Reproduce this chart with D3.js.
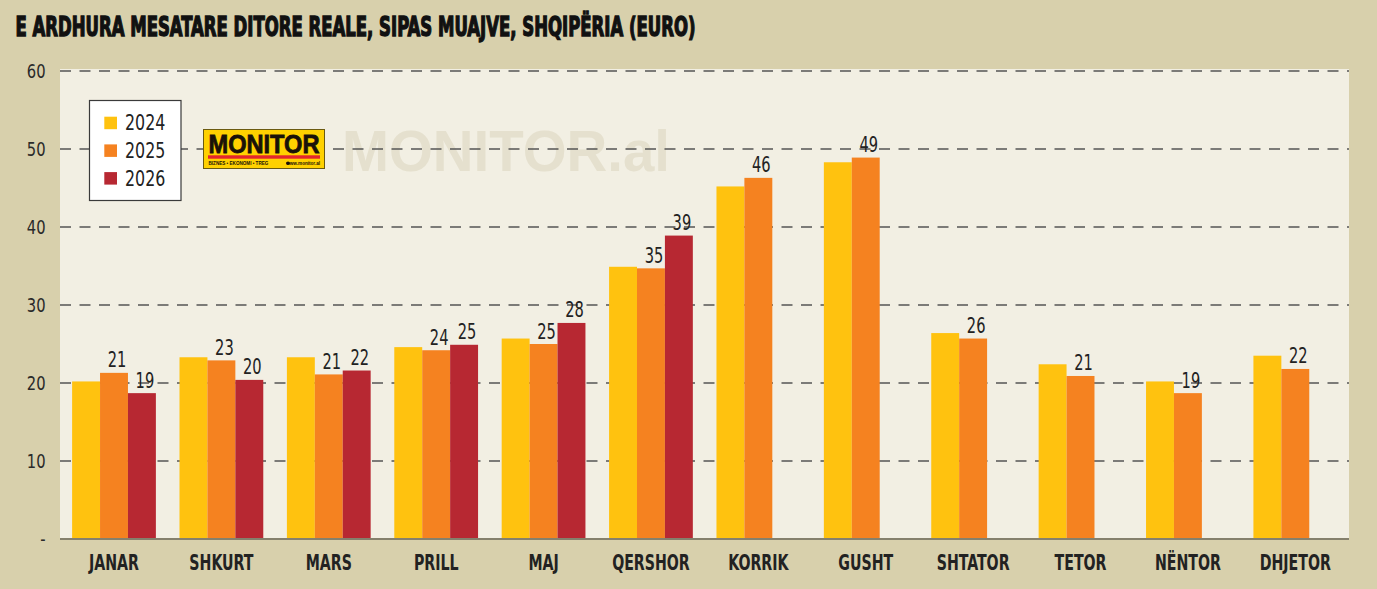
<!DOCTYPE html>
<html>
<head>
<meta charset="utf-8">
<script src="https://cdn.jsdelivr.net/npm/d3@7"></script>
<style>
  html, body { margin: 0; padding: 0; background: #D8D0AC; }
  svg { display: block; }
  .narrow { font-family: "Liberation Sans Narrow", "Arial Narrow", "DejaVu Sans Condensed", sans-serif; }
</style>
</head>
<body>
<svg id="chart" width="1377" height="589"></svg>
<script>
const title = "E ARDHURA MESATARE DITORE REALE, SIPAS MUAJVE, SHQIPËRIA (EURO)";
const months = ["JANAR","SHKURT","MARS","PRILL","MAJ","QERSHOR","KORRIK","GUSHT","SHTATOR","TETOR","NËNTOR","DHJETOR"];
const seriesNames = ["2024","2025","2026"];
const values2024 = [20.2, 23.3, 23.3, 24.6, 25.7, 34.9, 45.2, 48.3, 26.4, 22.4, 20.2, 23.5];
const values2025 = [21.3, 22.9, 21.1, 24.2, 25.0, 34.7, 46.3, 48.9, 25.7, 20.9, 18.7, 21.8];
const values2026 = [18.7, 20.4, 21.6, 24.9, 27.7, 38.9, null, null, null, null, null, null];
const labelledSeries = ["2025","2026"];
const yTicks = [0, 10, 20, 30, 40, 50, 60];
const yTickLabels = ["-", "10", "20", "30", "40", "50", "60"];
const colors = {"2024": "#FFC20F", "2025": "#F58220", "2026": "#B72832"};

const seriesValues = {"2024": values2024, "2025": values2025, "2026": values2026};

const svg = d3.select("#chart");
const W = 1377, H = 589;
const plot = {left: 60.3, right: 1349, top: 71, bottom: 539};

// helper: condensed text via horizontal scaling
function ntext(parent, x, y, str, size, sx, opts = {}) {
  const t = parent.append("text")
    .attr("class", "narrow")
    .attr("transform", `translate(${x},${y}) scale(${sx},1)`)
    .attr("font-size", size)
    .attr("fill", opts.fill || "#222")
    .attr("text-anchor", opts.anchor || "start")
    .attr("font-weight", opts.weight || "normal")
    .text(str);
  return t;
}

svg.append("rect").attr("x", 0).attr("y", 0).attr("width", W).attr("height", H).attr("fill", "#D8D0AC");

// title
svg.append("text").attr("class", "narrow")
  .attr("x", 15.5).attr("y", 36)
  .attr("font-size", 26).attr("font-weight", "bold").attr("fill", "#111")
  .attr("stroke", "#111").attr("stroke-width", 1.3)
  .attr("textLength", 680).attr("lengthAdjust", "spacingAndGlyphs")
  .text(title);

const x = d3.scaleBand().domain(months).range([plot.left, plot.right]).paddingInner(0.22).paddingOuter(0.11);
const xs = d3.scaleBand().domain(seriesNames).range([0, x.bandwidth()]).padding(0);
const y = d3.scaleLinear().domain([0, 60]).range([plot.bottom, plot.top]);

// plot background
svg.append("rect").attr("x", 60).attr("y", plot.top - 2)
  .attr("width", plot.right - 60).attr("height", plot.bottom - plot.top + 2)
  .attr("fill", "#F2EFE3");

// watermark
svg.append("text")
  .attr("x", 342).attr("y", 170.5)
  .attr("font-family", "Liberation Sans, Arial, sans-serif")
  .attr("font-weight", "bold").attr("font-size", 58)
  .attr("textLength", 328).attr("lengthAdjust", "spacingAndGlyphs")
  .attr("fill", "#E5E0CE")
  .text("MONITOR.al");

// gridlines
svg.append("g").selectAll("line").data(yTicks.filter(d => d > 0)).join("line")
  .attr("x1", 60).attr("x2", plot.right)
  .attr("y1", d => y(d)).attr("y2", d => y(d))
  .attr("stroke", "#555").attr("stroke-width", 1.4)
  .attr("stroke-dasharray", "11,8.5");

// y axis labels
const yg = svg.append("g");
yTicks.forEach((t, i) => {
  ntext(yg, 45.5, y(t) + 7, yTickLabels[i], 20, 0.82, {anchor: "end", fill: "#2a2a2a"});
});

// logo
const logo = svg.append("g");
logo.append("rect").attr("x", 203.5).attr("y", 129.5).attr("width", 121).attr("height", 39)
  .attr("fill", "#FFD100").attr("stroke", "#6b5a10").attr("stroke-width", 1);
logo.append("text").attr("x", 208.5).attr("y", 153)
  .attr("font-family", "Liberation Sans, Arial, sans-serif").attr("font-weight", "bold")
  .attr("font-size", 26).attr("fill", "#1a1208").attr("stroke", "#1a1208").attr("stroke-width", 0.8)
  .attr("textLength", 111).attr("lengthAdjust", "spacingAndGlyphs").text("MONITOR");
logo.append("rect").attr("x", 208).attr("y", 155.3).attr("width", 112).attr("height", 3.4).attr("fill", "#E4262C");
logo.append("text").attr("x", 208.5).attr("y", 165)
  .attr("font-family", "Liberation Sans, Arial, sans-serif").attr("font-weight", "bold")
  .attr("font-size", 4.6).attr("fill", "#1a1208").text("BIZNES  •  EKONOMI  •  TREG");
logo.append("circle").attr("cx", 288).attr("cy", 163.3).attr("r", 1.8).attr("fill", "#1a1208");
logo.append("text").attr("x", 320).attr("y", 165).attr("text-anchor", "end")
  .attr("font-family", "Liberation Sans, Arial, sans-serif").attr("font-weight", "bold")
  .attr("font-size", 4.6).attr("fill", "#1a1208").text("www.monitor.al");

// bars
const barData = [];
months.forEach((m, i) => {
  seriesNames.forEach(s => {
    const v = seriesValues[s][i];
    if (v !== null && v !== undefined) barData.push({month: m, series: s, value: v});
  });
});

svg.append("g").selectAll("rect").data(barData).join("rect")
  .attr("x", d => x(d.month) + xs(d.series))
  .attr("width", xs.bandwidth())
  .attr("y", d => y(d.value))
  .attr("height", d => y(0) - y(d.value))
  .attr("fill", d => colors[d.series]);

// value labels
const vg = svg.append("g");
barData.filter(d => labelledSeries.includes(d.series)).forEach(d => {
  ntext(vg, x(d.month) + xs(d.series) + xs.bandwidth() / 2 + 3, y(d.value) - 5.5,
        d3.format(".0f")(d.value), 22, 0.74, {anchor: "middle", fill: "#222"});
});

// baseline
svg.append("line").attr("x1", 60).attr("x2", plot.right)
  .attr("y1", y(0)).attr("y2", y(0))
  .attr("stroke", "#85806C").attr("stroke-width", 2);

// x labels
const xg = svg.append("g");
months.forEach(m => {
  ntext(xg, x(m) + x.bandwidth() / 2, 569.5, m, 21, 0.75, {anchor: "middle", weight: "bold", fill: "#222"});
});

// legend
const lg = svg.append("g");
lg.append("rect").attr("x", 89.5).attr("y", 100.5).attr("width", 91.5).attr("height", 100)
  .attr("fill", "#FFFFFF").attr("stroke", "#3a3a3a").attr("stroke-width", 1.2);
seriesNames.forEach((s, i) => {
  lg.append("rect").attr("x", 104.3).attr("y", 116.7 + i * 27.7).attr("width", 12.7).attr("height", 12.5)
    .attr("fill", colors[s]);
  ntext(lg, 125, 130 + i * 27.8, s, 22, 0.8, {fill: "#222"});
});
</script>
</body>
</html>
